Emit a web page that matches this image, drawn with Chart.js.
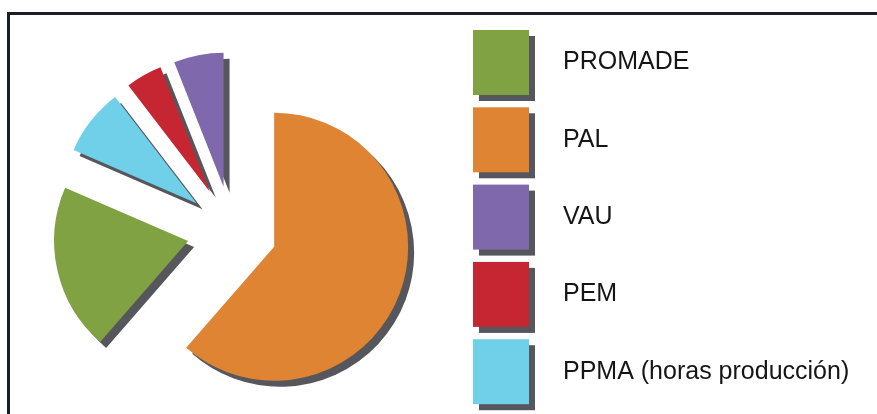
<!DOCTYPE html>
<html>
<head>
<meta charset="utf-8">
<script src="https://cdn.jsdelivr.net/npm/chart.js@4"></script>
<style>
  html, body { margin: 0; padding: 0; background: #fff; overflow: hidden; }
  #wrap { position: relative; width: 877px; height: 414px; }
  #frame { position: absolute; left: 7px; top: 12px; width: 900px; height: 420px;
           border-top: 3px solid #1b1f23; border-left: 3px solid #1b1f23; }
  #pieChart { position: absolute; left: 0; top: 0; }
</style>
</head>
<body>
<div id="wrap">
  <div id="frame"></div>
  <canvas id="pieChart" width="877" height="414"></canvas>
</div>
<script>
// slices, clockwise from 12 o'clock
const labels = ["PAL", "PROMADE", "PPMA (horas producción)", "PEM", "VAU"];
const values = [61.4, 20.1, 8.1, 4.4, 6.0];
const colors = ["#de8433", "#80a242", "#70cfe9", "#c52632", "#8068ac"];
// legend order as in the original
const legendOrder = ["PROMADE", "PAL", "VAU", "PEM", "PPMA (horas producción)"];

const shadowColor = "#56575c";
const explode = 45; // px every slice is pulled out of the centre

// pull slices out along their mid angle (the built-in offset also grows the radius)
const explodePlugin = {
    id: "explode",
    afterDatasetUpdate(chart, args) {
        chart.getDatasetMeta(args.index).data.forEach(arc => {
            const mid = (arc.startAngle + arc.endAngle) / 2;
            arc.x += Math.cos(mid) * explode;
            arc.y += Math.sin(mid) * explode;
        });
    }
};

// flat drop shadow under the slices
const shadowPlugin = {
    id: "shadow",
    beforeDatasetDraw(chart) {
        const ctx = chart.ctx;
        ctx.save();
        ctx.shadowColor = shadowColor;
        ctx.shadowBlur = 0;
        ctx.shadowOffsetX = 6;
        ctx.shadowOffsetY = 6;
    },
    afterDatasetDraw(chart) {
        chart.ctx.restore();
    }
};

// big square legend on the right
const boxLegend = {
    id: "boxLegend",
    afterDraw(chart) {
        const ctx = chart.ctx;
        const ds = chart.data.datasets[0];
        ctx.save();
        legendOrder.forEach((name, k) => {
            const i = chart.data.labels.indexOf(name);
            const x = 473, y = 30 + k * 77.3, w = 56, h = 65;
            ctx.fillStyle = shadowColor;
            ctx.fillRect(x + 6, y + 6, w, h);
            ctx.fillStyle = ds.backgroundColor[i];
            ctx.fillRect(x, y, w, h);
            ctx.fillStyle = "#151515";
            ctx.font = "25px 'Liberation Sans', Arial, sans-serif";
            ctx.textBaseline = "middle";
            ctx.fillText(name, 563, y + h / 2);
        });
        ctx.restore();
    }
};

const config = {
    type: "pie",
    data: {
        labels: labels,
        datasets: [{
            data: values,
            backgroundColor: colors,
            borderWidth: 0
        }]
    },
    options: {
        responsive: false,
        animation: false,
        radius: 134,
        layout: { padding: { left: 0, right: 413, top: 48, bottom: 0 } },
        plugins: {
            legend: { display: false },
            tooltip: { enabled: false }
        }
    },
    plugins: [explodePlugin, shadowPlugin, boxLegend]
};

new Chart(document.getElementById("pieChart").getContext("2d"), config);
</script>
</body>
</html>
